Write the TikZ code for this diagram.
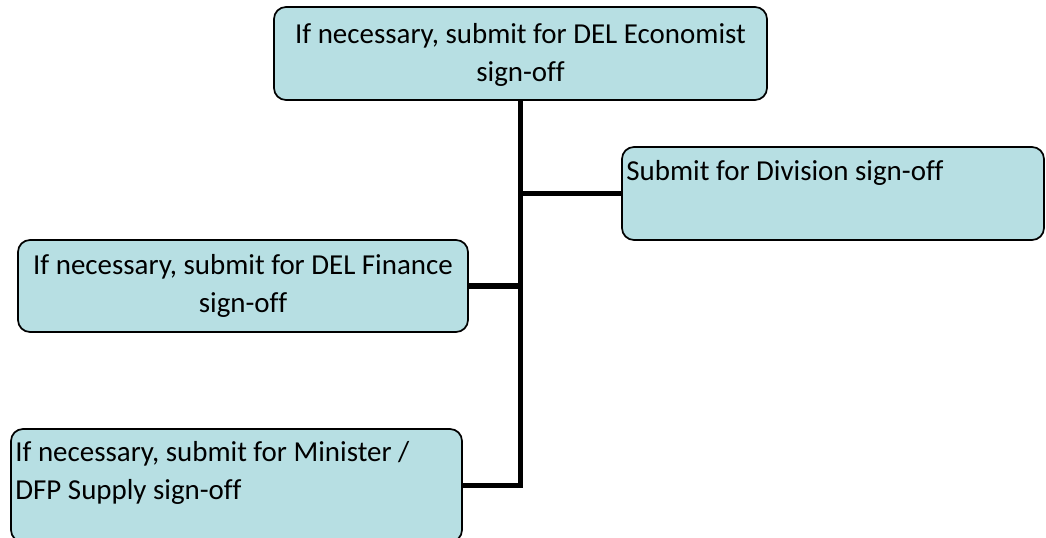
\documentclass[tikz,border=0pt]{standalone}
\usepackage{fontspec}
\setmainfont{Carlito}[Ligatures=CommonOff]
\usepackage{tikz}
\usetikzlibrary{positioning,fit}
\definecolor{boxfill}{HTML}{B7DFE3}
\tikzset{
  box/.style={draw=black,line width=1.3pt,rounded corners=9pt,fill=boxfill,inner sep=0pt},
  txt/.style={inner sep=0pt,font=\fontsize{21.7}{28.5}\selectfont},
  link/.style={line width=3.8pt,black}
}

\begin{document}
\begin{tikzpicture}[x=0.75pt,y=-0.75pt]
\useasboundingbox (0,0) rectangle (1046,537);
% boxes
\node[box,fit={(274,7) (767,100)}] (econ) {};
\node[box,fit={(622,147) (1044,240)}] (division) {};
\node[box,fit={(18,240) (468,332)}] (finance) {};
\node[box,fit={(11,429) (462,542)}] (minister) {};
% trunk and branches
\draw[link] (econ.south) |- (minister.east);
\draw[link] (econ.south |- division.west) -- (division.west);
\draw[link] (finance.east) -- (econ.south |- finance.east);
% labels
\node[txt,align=center] at ([yshift=-1]econ.center) {If necessary, submit for DEL Economist\\sign-off};
\node[txt,anchor=north west,align=left] at ([shift={(5,14)}]division.north west) {Submit for Division sign-off};
\node[txt,align=center] at (finance.center) {If necessary, submit for DEL Finance\\sign-off};
\node[txt,anchor=north west,align=left] at ([shift={(5,13)}]minister.north west) {If necessary, submit for Minister /\\DFP Supply sign-off};
\end{tikzpicture}
\end{document}
